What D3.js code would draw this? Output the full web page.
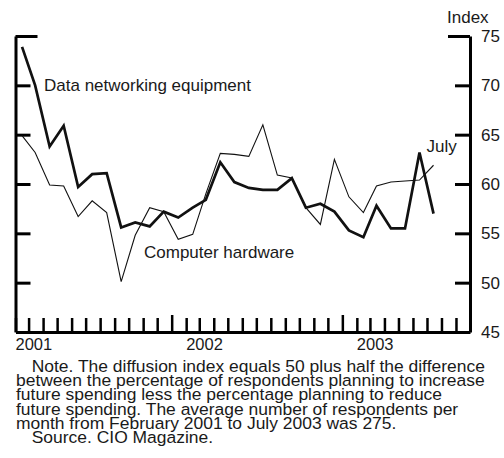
<!DOCTYPE html>
<html>
<head>
<meta charset="utf-8">
<script src="https://cdn.jsdelivr.net/npm/d3@7/dist/d3.min.js"></script>
<style>
  body { margin: 0; background: #fff; }
  text { font-family: "Liberation Sans", Arial, Helvetica, sans-serif; fill: #1a1a1a; }
</style>
</head>
<body>
<svg id="chart" width="504" height="458"></svg>
<script>
// monthly diffusion index, Feb 2001 - Jul 2003
const months = d3.timeMonths(new Date(2001, 1, 1), new Date(2003, 7, 1)).map(d => new Date(d.getFullYear(), d.getMonth(), 15));

const networking = [73.9, 70.0, 63.8, 65.9, 59.7, 61.0, 61.1, 55.6, 56.1, 55.7,
                    57.2, 56.6, 57.6, 58.4, 62.2, 60.2, 59.6, 59.4, 59.4, 60.6,
                    57.6, 58.0, 57.2, 55.3, 54.6, 57.8, 55.5, 55.5, 63.2, 57.0];

const hardware = [64.9, 63.2, 59.9, 59.8, 56.7, 58.3, 57.1, 50.1, 54.8, 57.6,
                  57.2, 54.4, 54.9, 59.0, 63.1, 63.0, 62.8, 66.0, 60.9, 60.6,
                  57.6, 55.9, 62.5, 58.7, 57.1, 59.8, 60.2, 60.3, 60.4, 61.9];

const yTicks = [45, 50, 55, 60, 65, 70, 75];
const yearLabels = ["2001", "2002", "2003"];

const noteLines = [
  "Note. The diffusion index equals 50 plus half the difference",
  "between the percentage of respondents planning to increase",
  "future spending less the percentage planning to reduce",
  "future spending. The average number of respondents per",
  "month from February 2001 to July 2003 was 275.",
  "Source. CIO Magazine."
];

const svg = d3.select("#chart");

const x = d3.scaleTime()
  .domain([new Date(2001, 1, 1), new Date(2003, 9, 1)])
  .range([15.5, 470]);
const y = d3.scaleLinear()
  .domain([45, 75])
  .range([332, 36]);

// bottom axis with monthly ticks pointing up
let xAxis = d3.axisBottom(x)
  .ticks(d3.timeMonth.every(1))
  .tickSizeInner(-14)
  .tickSizeOuter(0)
  .tickFormat("");

let gx = svg.append("g")
  .attr("transform", "translate(0," + y(45) + ")")
  .call(xAxis);
gx.selectAll(".tick line")
  .attr("stroke-width", 2.5)
  .attr("y2", d => d.getMonth() === 0 ? -17 : -14);
gx.select(".domain").attr("stroke-width", 3);

// year labels
svg.append("g").selectAll("text")
  .data(yearLabels)
  .join("text")
  .attr("x", d => x(new Date(+d, 1, 1)))
  .attr("y", 349.5)
  .style("font-size", "16.5px")
  .text(d => d);

// left axis, no labels
let gl = svg.append("g")
  .attr("transform", "translate(" + x.range()[0] + ",0)")
  .call(d3.axisLeft(y).tickValues(yTicks).tickSizeInner(-15).tickSizeOuter(0).tickFormat(""));
gl.selectAll(".tick line")
  .attr("stroke-width", 3)
  .attr("x2", d => d === 75 ? 22 : 15)
  .attr("display", d => d === 45 ? "none" : null);
gl.select(".domain").attr("stroke-width", 3);

// right axis with labels
let gr = svg.append("g")
  .attr("transform", "translate(" + x.range()[1] + ",0)")
  .call(d3.axisRight(y).tickValues(yTicks).tickSizeInner(-15).tickSizeOuter(0).tickPadding(11));
gr.selectAll(".tick line")
  .attr("stroke-width", 3)
  .attr("x2", d => d === 75 ? -22 : -15)
  .attr("display", d => d === 45 ? "none" : null);
gr.select(".domain").attr("stroke-width", 3);
gr.selectAll(".tick text")
  .style("font-size", "17px")
  .attr("fill", null);
gr.attr("font-family", null).attr("font-size", null);

svg.append("text")
  .attr("x", 447)
  .attr("y", 22.5)
  .style("font-size", "17px")
  .text("Index");

// series lines
let line = d3.line()
  .x((d, i) => x(months[i]))
  .y(d => y(d));

svg.append("path")
  .datum(hardware)
  .attr("fill", "none")
  .attr("stroke", "#111")
  .attr("stroke-width", 1.1)
  .attr("d", line);

svg.append("path")
  .datum(networking)
  .attr("fill", "none")
  .attr("stroke", "#111")
  .attr("stroke-width", 2.7)
  .attr("d", line);

// series labels
svg.append("text").attr("x", 44).attr("y", 90.5).style("font-size", "17px").text("Data networking equipment");
svg.append("text").attr("x", 144).attr("y", 257.5).style("font-size", "17px").text("Computer hardware");
svg.append("text").attr("x", 426.5).attr("y", 151.5).style("font-size", "17px").text("July");

// note, slightly widened like the original
let note = svg.append("g").attr("transform", "translate(16,0) scale(1.12,1)");
note.selectAll("text")
  .data(noteLines)
  .join("text")
  .attr("x", (d, i) => (i === 0 || i === 5) ? 14 : 0)
  .attr("y", (d, i) => 371.7 + i * 14.35)
  .style("font-size", "15.6px")
  .text(d => d);
</script>
</body>
</html>
